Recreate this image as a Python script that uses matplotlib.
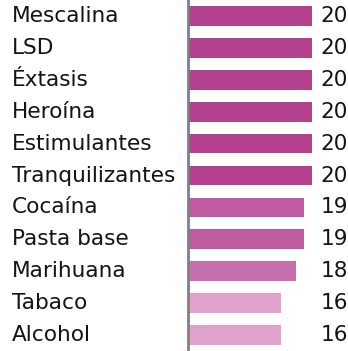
import matplotlib
matplotlib.use('Agg')
import matplotlib.pyplot as plt
from matplotlib.transforms import blended_transform_factory

# Substances, top to bottom, and their values
substances = ['Mescalina', 'LSD', 'Éxtasis', 'Heroína', 'Estimulantes',
              'Tranquilizantes', 'Cocaína', 'Pasta base', 'Marihuana',
              'Tabaco', 'Alcohol']
values = [20, 20, 20, 20, 20, 20, 19, 19, 18, 16, 16]

# Shade per value: higher values get the deeper magenta
shades = {20: '#b4418e', 19: '#bf5ba0', 18: '#c66fad', 16: '#dea2cc'}
colors = [shades[v] for v in values]

plt.rcParams['font.family'] = ['DejaVu Sans']

fig = plt.figure(figsize=(3.48, 3.51), dpi=100)
ax = fig.add_axes([187.5 / 348, 0, 1 - 187.5 / 348, 1])

ypos = list(range(len(substances)))
ax.barh(ypos, values, height=0.62, color=colors)
ax.set_ylim(len(substances) - 0.5, -0.5)
ax.set_xlim(4, 24.7)

for s in ['top', 'right', 'bottom']:
    ax.spines[s].set_visible(False)
ax.spines['left'].set_color('#808080')
ax.spines['left'].set_linewidth(2)
ax.set_xticks([])
ax.set_yticks([])

fs = 15.6
trans = blended_transform_factory(fig.transFigure, ax.transData)
for y, name, v in zip(ypos, substances, values):
    ax.text(12 / 348, y, name, transform=trans, ha='left', va='center',
            fontsize=fs, color='#141414')
    ax.text(21.2, y, str(v), ha='left', va='center', fontsize=fs,
            color='#141414')

fig.savefig('out.png', dpi=100)
